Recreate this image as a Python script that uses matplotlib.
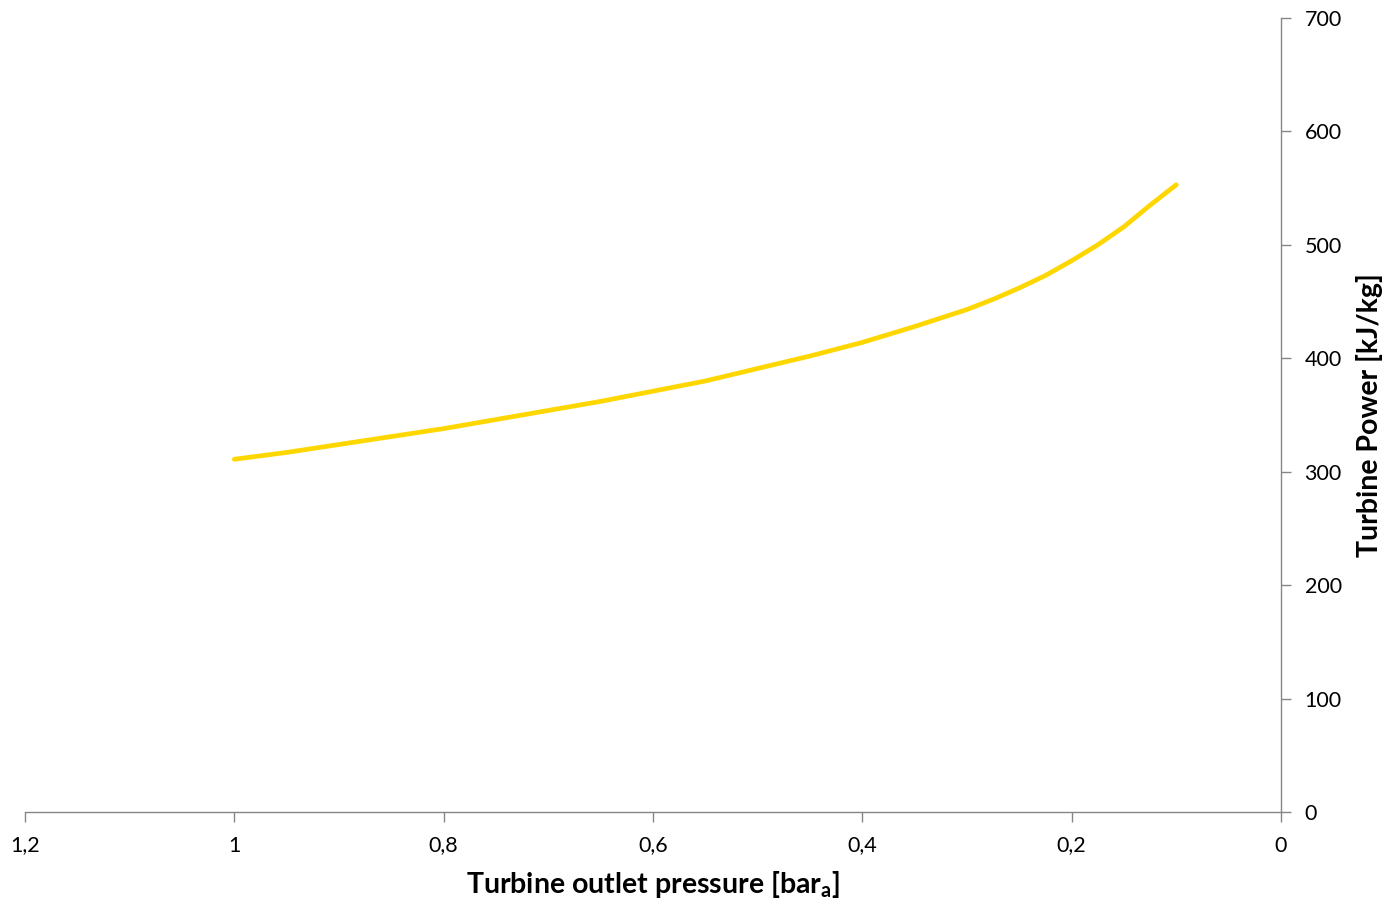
import matplotlib
matplotlib.use("Agg")
import matplotlib.pyplot as plt
from matplotlib.ticker import FuncFormatter

pressure = [1.0, 0.95, 0.9, 0.85, 0.8, 0.75, 0.7, 0.65, 0.6, 0.55, 0.5, 0.45, 0.4, 0.35, 0.3,
            0.275, 0.25, 0.225, 0.2, 0.175, 0.15, 0.125, 0.1]
power = [311, 317, 324, 331, 338, 346, 354, 362, 371, 380, 391, 402, 414, 428, 443,
         452, 462, 473, 486, 500, 516, 535, 553]

x_ticks = [1.2, 1.0, 0.8, 0.6, 0.4, 0.2, 0.0]
y_ticks = [0, 100, 200, 300, 400, 500, 600, 700]

plt.rcParams['font.family'] = ['Lato', 'DejaVu Sans']

fig = plt.figure(figsize=(13.86, 9.02), dpi=100)
ax = fig.add_axes([0.018, 0.0998, 0.9062, 0.8802])

ax.plot(pressure, power, color='#FFD700', linewidth=3.4, solid_capstyle='round', solid_joinstyle='round')

ax.set_xlim(1.2, 0.0)
ax.set_ylim(0, 700)
ax.set_xticks(x_ticks)
ax.set_yticks(y_ticks)

def fmt_x(v, pos):
    s = ('%.1f' % v).rstrip('0').rstrip('.')
    return s.replace('.', ',')
ax.xaxis.set_major_formatter(FuncFormatter(fmt_x))

ax.yaxis.tick_right()
ax.yaxis.set_label_position('right')

for s in ['top', 'left']:
    ax.spines[s].set_visible(False)
for s in ['bottom', 'right']:
    ax.spines[s].set_color('#868686')
    ax.spines[s].set_linewidth(1.0)

ax.tick_params(axis='both', colors='#868686', labelcolor='black', labelsize=15.5, length=7, width=1.0, direction='out')
ax.tick_params(axis='x', pad=10)
ax.tick_params(axis='y', pad=10)

ax.set_xlabel('Turbine outlet pressure [bar$_\\mathregular{a}$]', fontsize=20.5, fontweight='bold', labelpad=10)
ax.set_ylabel('Turbine Power [kJ/kg]', fontsize=20.5, fontweight='bold', labelpad=10)

fig.savefig('out.png', dpi=100, facecolor='white')
